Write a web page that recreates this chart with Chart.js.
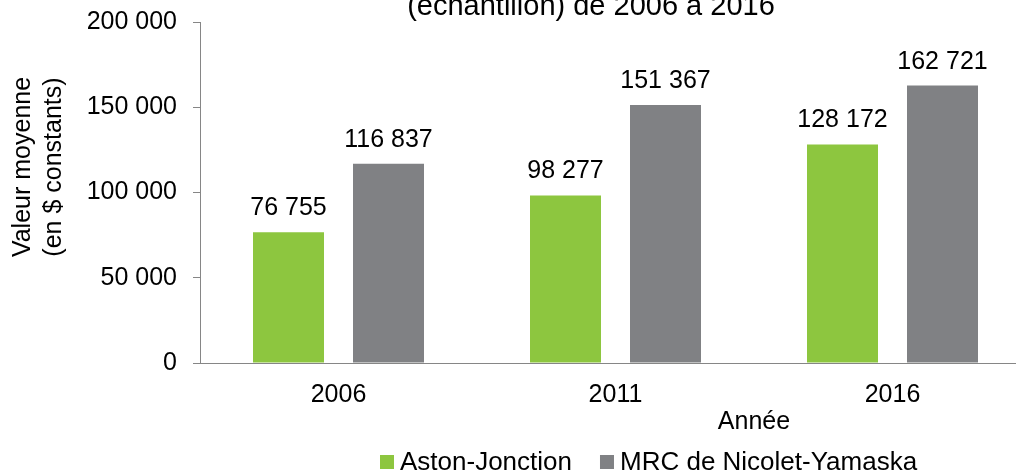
<!DOCTYPE html>
<html>
<head>
<meta charset="utf-8">
<script src="https://cdn.jsdelivr.net/npm/chart.js@4/dist/chart.umd.min.js"></script>
<style>
  html, body { margin: 0; padding: 0; background: #fff; overflow: hidden; }
  #wrap { width: 1031px; height: 473px; }
</style>
</head>
<body>
<div id="wrap"><canvas id="chart" width="1031" height="473"></canvas></div>
<script>
// Data
const years = ["2006", "2011", "2016"];
const astonValues = [76755, 98277, 128172];
const mrcValues = [116837, 151367, 162721];
const seriesNames = ["Aston-Jonction", "MRC de Nicolet-Yamaska"];
const yTicks = [0, 50000, 100000, 150000, 200000];

const FONT = "'Liberation Sans', Arial, sans-serif";
const GREEN = '#8dc63f';
const GREY = '#808184';
const AXIS = '#868686';

function fmt(v) {
  return String(v).replace(/\B(?=(\d{3})+(?!\d))/g, ' ');
}

// value labels above each bar + titles + legend
const extras = {
  id: 'extras',
  afterDatasetsDraw(chart) {
    const ctx = chart.ctx;
    ctx.save();
    ctx.fillStyle = '#000';
    ctx.font = '25px ' + FONT;
    ctx.textAlign = 'center';
    ctx.textBaseline = 'alphabetic';
    chart.data.datasets.forEach((ds, i) => {
      chart.getDatasetMeta(i).data.forEach((bar, j) => {
        ctx.fillText(fmt(ds.data[j]), bar.x, bar.y - 17);
      });
    });

    // chart title (only the second line is visible)
    ctx.font = '29px ' + FONT;
    ctx.fillText('(échantillon) de 2006 à 2016', 591, 15);

    // x axis title
    ctx.font = '25px ' + FONT;
    ctx.fillText('Année', 754, 429);

    // y axis title
    ctx.save();
    ctx.translate(0, 167);
    ctx.rotate(-Math.PI / 2);
    ctx.textBaseline = 'middle';
    ctx.fillText('Valeur moyenne', 0, 23);
    ctx.fillText('(en $ constants)', 0, 54);
    ctx.restore();

    // legend
    ctx.font = '26px ' + FONT;
    ctx.textAlign = 'left';
    let x = 380;
    chart.data.datasets.forEach((ds, i) => {
      ctx.fillStyle = ds.backgroundColor;
      ctx.fillRect(x, 455, 14, 14);
      ctx.fillStyle = '#000';
      ctx.fillText(ds.label, x + 20, 470);
      x += 20 + ctx.measureText(ds.label).width + 28;
    });
    ctx.restore();
  }
};

new Chart(document.getElementById('chart'), {
  type: 'bar',
  data: {
    labels: years,
    datasets: [
      { label: seriesNames[0], data: astonValues, backgroundColor: GREEN },
      { label: seriesNames[1], data: mrcValues, backgroundColor: GREY }
    ]
  },
  options: {
    responsive: false,
    animation: false,
    layout: { padding: { top: 22, left: 0, right: 0, bottom: 0 } },
    datasets: { bar: { categoryPercentage: 0.722, barPercentage: 0.71 } },
    plugins: {
      legend: { display: false },
      title: { display: false },
      tooltip: { enabled: false }
    },
    scales: {
      x: {
        grid: { display: false, drawTicks: false },
        border: { display: true, color: AXIS, width: 1 },
        ticks: { color: '#000', font: { family: FONT, size: 25 }, padding: 17 },
        afterFit: s => { s.height = 110; s.paddingLeft = 0; s.paddingRight = 0; }
      },
      y: {
        min: 0,
        max: 200000,
        afterBuildTicks: s => { s.ticks = yTicks.map(v => ({ value: v })); },
        grid: { drawOnChartArea: false, drawTicks: true, tickLength: 7, color: AXIS },
        border: { display: true, color: AXIS, width: 1 },
        ticks: {
          color: '#000',
          font: { family: FONT, size: 25 },
          padding: 16,
          callback: v => fmt(v)
        },
        afterFit: s => { s.width = 200; s.paddingTop = 0; s.paddingBottom = 0; }
      }
    }
  },
  plugins: [extras]
});
</script>
</body>
</html>
